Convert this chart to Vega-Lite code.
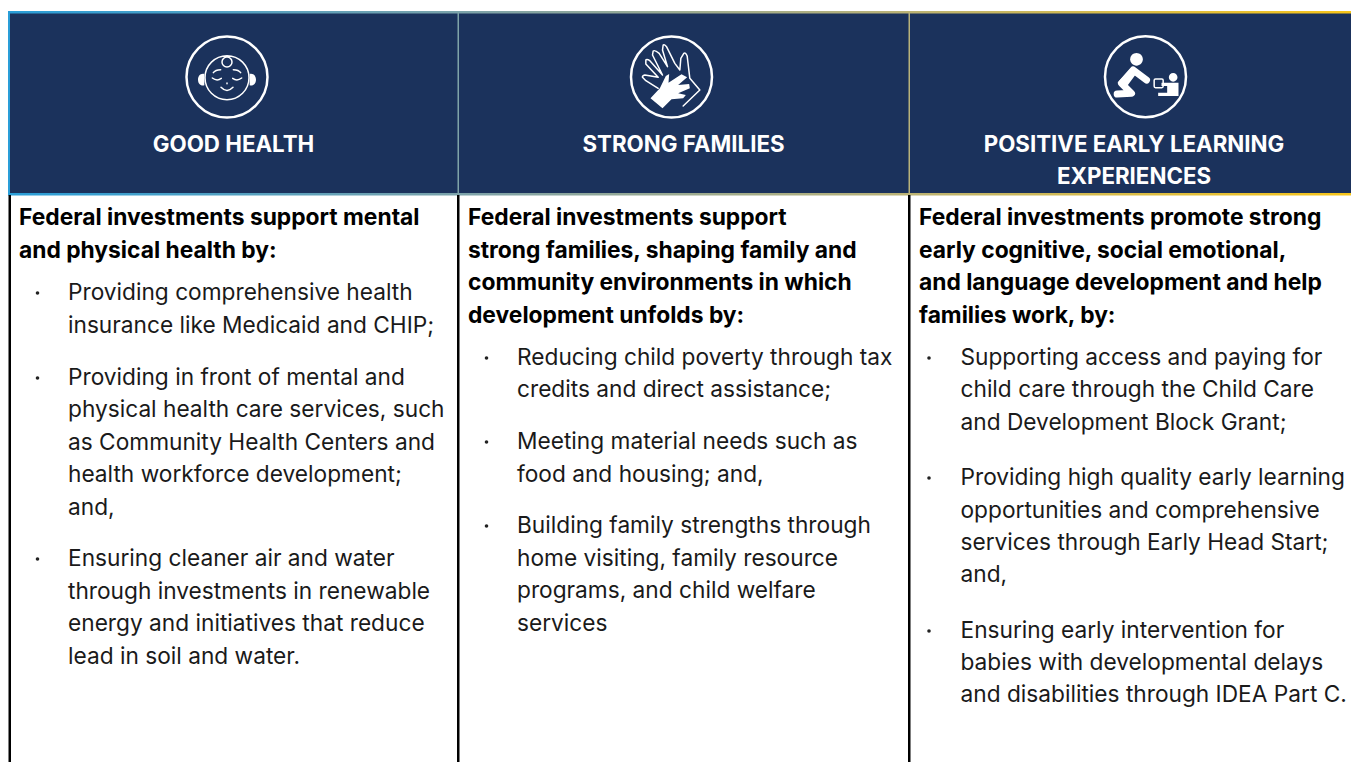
{"$schema":"https://vega.github.io/schema/vega-lite/v6.json","autosize":{"type":"fit","contains":"padding"},"padding":0,"width":1351,"height":762,"background":"white","config":{"view":{"stroke":null}},
"datasets":{
"band":[{"x":9,"x2":1351,"y":12,"y2":194}],
"edges":[{"x":8,"x2":1351,"y":11,"y2":13.5},{"x":8,"x2":1351,"y":193,"y2":195.5}],
"rules":[{"part":"a","x":8,"x2":10,"y":12,"y2":194},{"part":"b","x":457.5,"x2":459,"y":12,"y2":194},{"part":"c","x":908.5,"x2":910,"y":12,"y2":194},{"part":"k","x":8.5,"x2":11,"y":195,"y2":762},{"part":"k","x":457,"x2":459.5,"y":195,"y2":762},{"part":"k","x":908,"x2":910.5,"y":195,"y2":762}],
"rings":[{"x":227,"y":77},{"x":671.5,"y":77},{"x":1145.5,"y":76.7}],
"glyphs":[{"glyph":"babyline","x":227,"y":77},{"glyph":"babysolid","x":227,"y":77},{"glyph":"handline","x":671.5,"y":77},{"glyph":"handsolid","x":671.5,"y":77},{"glyph":"kidline","x":1145.5,"y":76.7},{"glyph":"kidsolid","x":1145.5,"y":76.7},{"glyph":"adult","x":1145.5,"y":76.7}],
"titles":[{"x":233.5,"y":152,"t":"GOOD HEALTH"},{"x":683.5,"y":152,"t":"STRONG FAMILIES"},{"x":1134,"y":152,"t":"POSITIVE EARLY LEARNING"},{"x":1134,"y":184,"t":"EXPERIENCES"}],
"heads":[{"x":19,"y":225,"t":"Federal investments support mental"},{"x":19,"y":258,"t":"and physical health by:"},{"x":468,"y":225,"t":"Federal investments support"},{"x":468,"y":258,"t":"strong families, shaping family and"},{"x":468,"y":290,"t":"community environments in which"},{"x":468,"y":323,"t":"development unfolds by:"},{"x":919,"y":225,"t":"Federal investments promote strong"},{"x":919,"y":258,"t":"early cognitive, social emotional,"},{"x":919,"y":290,"t":"and language development and help"},{"x":919,"y":323,"t":"families work, by:"}],
"body":[{"x":68,"y":300,"t":"Providing comprehensive health"},{"x":68,"y":333,"t":"insurance like Medicaid and CHIP;"},{"x":68,"y":385,"t":"Providing in front of mental and"},{"x":68,"y":417,"t":"physical health care services, such"},{"x":68,"y":450,"t":"as Community Health Centers and"},{"x":68,"y":482,"t":"health workforce development;"},{"x":68,"y":515,"t":"and,"},{"x":68,"y":566,"t":"Ensuring cleaner air and water"},{"x":68,"y":599,"t":"through investments in renewable"},{"x":68,"y":631,"t":"energy and initiatives that reduce"},{"x":68,"y":664,"t":"lead in soil and water."},
{"x":517,"y":365,"t":"Reducing child poverty through tax"},{"x":517,"y":397,"t":"credits and direct assistance;"},{"x":517,"y":449,"t":"Meeting material needs such as"},{"x":517,"y":482,"t":"food and housing; and,"},{"x":517,"y":533,"t":"Building family strengths through"},{"x":517,"y":566,"t":"home visiting, family resource"},{"x":517,"y":598,"t":"programs, and child welfare"},{"x":517,"y":631,"t":"services"},
{"x":960.5,"y":365,"t":"Supporting access and paying for"},{"x":960.5,"y":397,"t":"child care through the Child Care"},{"x":960.5,"y":430,"t":"and Development Block Grant;"},{"x":960.5,"y":485,"t":"Providing high quality early learning"},{"x":960.5,"y":518,"t":"opportunities and comprehensive"},{"x":960.5,"y":550,"t":"services through Early Head Start;"},{"x":960.5,"y":582,"t":"and,"},{"x":960.5,"y":638,"t":"Ensuring early intervention for"},{"x":960.5,"y":670,"t":"babies with developmental delays"},{"x":960.5,"y":702,"t":"and disabilities through IDEA Part C."}],
"bullets":[{"x":37.5,"y":293},{"x":37.5,"y":378},{"x":37.5,"y":559},{"x":486.5,"y":358},{"x":486.5,"y":442},{"x":486.5,"y":526},{"x":929,"y":358},{"x":929,"y":478},{"x":929,"y":631}]
},
"encoding":{"x":{"field":"x","type":"quantitative","axis":null,"scale":{"domain":[0,1351],"range":[0,1351],"nice":false,"zero":false}},"y":{"field":"y","type":"quantitative","axis":null,"scale":{"domain":[0,762],"range":[0,762],"nice":false,"zero":false}}},
"layer":[
{"data":{"name":"band"},"mark":{"type":"rect","color":"#1b325c"},"encoding":{"x2":{"field":"x2"},"y2":{"field":"y2"}}},
{"data":{"name":"edges"},"mark":{"type":"rect","color":{"gradient":"linear","x1":0,"y1":0,"x2":1,"y2":0,"stops":[{"offset":0,"color":"#2a9ed8"},{"offset":0.35,"color":"#7fa3a8"},{"offset":0.65,"color":"#b8b27a"},{"offset":1,"color":"#f7c51a"}]}},"encoding":{"x2":{"field":"x2"},"y2":{"field":"y2"}}},
{"data":{"name":"rules"},"mark":{"type":"rect"},"encoding":{"x2":{"field":"x2"},"y2":{"field":"y2"},"color":{"field":"part","type":"nominal","legend":null,"scale":{"domain":["a","b","c","k"],"range":["#2a9ed8","#7fa3a8","#b8b27a","#000000"]}}}},
{"data":{"name":"rings"},"mark":{"type":"point","shape":"circle","size":6560,"filled":false,"stroke":"#ffffff","strokeWidth":2.5,"opacity":1}},
{"data":{"name":"glyphs"},"transform":[{"filter":"indexof(datum.glyph,'line')>0"}],"mark":{"type":"point","size":0.4444,"filled":false,"stroke":"#ffffff","strokeWidth":1.5,"opacity":1,"strokeCap":"round","strokeJoin":"round"},"encoding":{"shape":{"field":"glyph","type":"nominal","legend":null,"scale":{"domain":["babyline","handline","kidline"],"range":["M66 2A66 66 0 1 1 -66 2A66 66 0 1 1 66 2ZM15 -45A15 15 0 1 1 -15 -45A15 15 0 1 1 15 -45ZM-41 -13Q-35 -22 -19 -22M41 -13Q35 -22 19 -22M-44 3Q-30 14 -17 4M44 3Q30 14 17 4M0 18L0 20M-18 31Q0 50 18 31","M35 87L85 39L55 4L47 -63Q42 -75 37 -71L28 -56L25 -21L10 -41L-15 -91Q-22 -99 -25 -96L-27 -81L-12 -31L-37 -71Q-50 -82 -55 -78L-57 -66L-27 -6L-65 -49Q-74 -55 -77 -51L-77 -39L-40 1L-80 -6Q-88 -4 -87 1L-77 11L-40 34","M30 7H49Q53 7 53 11V29Q53 33 49 33H30Q26 33 26 29V11Q26 7 30 7Z"]}}}},
{"data":{"name":"glyphs"},"transform":[{"filter":"indexof(datum.glyph,'solid')>0"}],"mark":{"type":"point","size":0.4444,"filled":true,"color":"#ffffff","opacity":1},"encoding":{"shape":{"field":"glyph","type":"nominal","legend":null,"scale":{"domain":["babysolid","handsolid","kidsolid"],"range":["M-68 -9C-80 -12 -87 -2 -87 8C-87 18 -80 28 -68 25ZM68 -9C80 -12 87 -2 87 8C87 18 80 28 68 25Z","M-63 64L-35 34L-17 -3L-7 -9L-9 17L30 -8L47 1L20 24L53 21L55 34L20 49L43 54L35 64L0 67L-27 94Z","M48 18H99V58H38V48H65V28H48ZM96 2A13 13 0 1 1 70 2A13 13 0 1 1 96 2ZM-40 -30L-24 -14L-55 28L-84 18Z"]}}}},
{"data":{"name":"glyphs"},"transform":[{"filter":"datum.glyph=='adult'"}],"mark":{"type":"point","size":0.4444,"filled":false,"stroke":"#ffffff","strokeWidth":7,"opacity":1,"strokeCap":"round","strokeJoin":"round"},"encoding":{"shape":{"field":"glyph","type":"nominal","legend":null,"scale":{"domain":["adult"],"range":["M3 10L-37 -20L-72 20L-42 50L-85 52"]}}}},
{"data":{"name":"rings"},"transform":[{"filter":"datum.x>1000"}],"mark":{"type":"point","shape":"M-8 -52A19 19 0 1 1 -46 -52A19 19 0 1 1 -8 -52Z","size":0.4444,"filled":true,"color":"#ffffff","opacity":1}},
{"data":{"name":"titles"},"mark":{"type":"text","font":"Inter","fontWeight":"bold","fontSize":22.3,"align":"center","baseline":"alphabetic","color":"#ffffff"},"encoding":{"text":{"field":"t"}}},
{"data":{"name":"heads"},"mark":{"type":"text","font":"Inter","fontWeight":"bold","fontSize":22.8,"align":"left","baseline":"alphabetic","color":"#000000"},"encoding":{"text":{"field":"t"}}},
{"data":{"name":"body"},"mark":{"type":"text","font":"Inter","fontSize":22.7,"align":"left","baseline":"alphabetic","color":"#1a1a1a"},"encoding":{"text":{"field":"t"}}},
{"data":{"name":"bullets"},"mark":{"type":"point","shape":"circle","size":13,"filled":true,"color":"#222222","opacity":1}}
],
"resolve":{"scale":{"shape":"independent","color":"independent"}}}
